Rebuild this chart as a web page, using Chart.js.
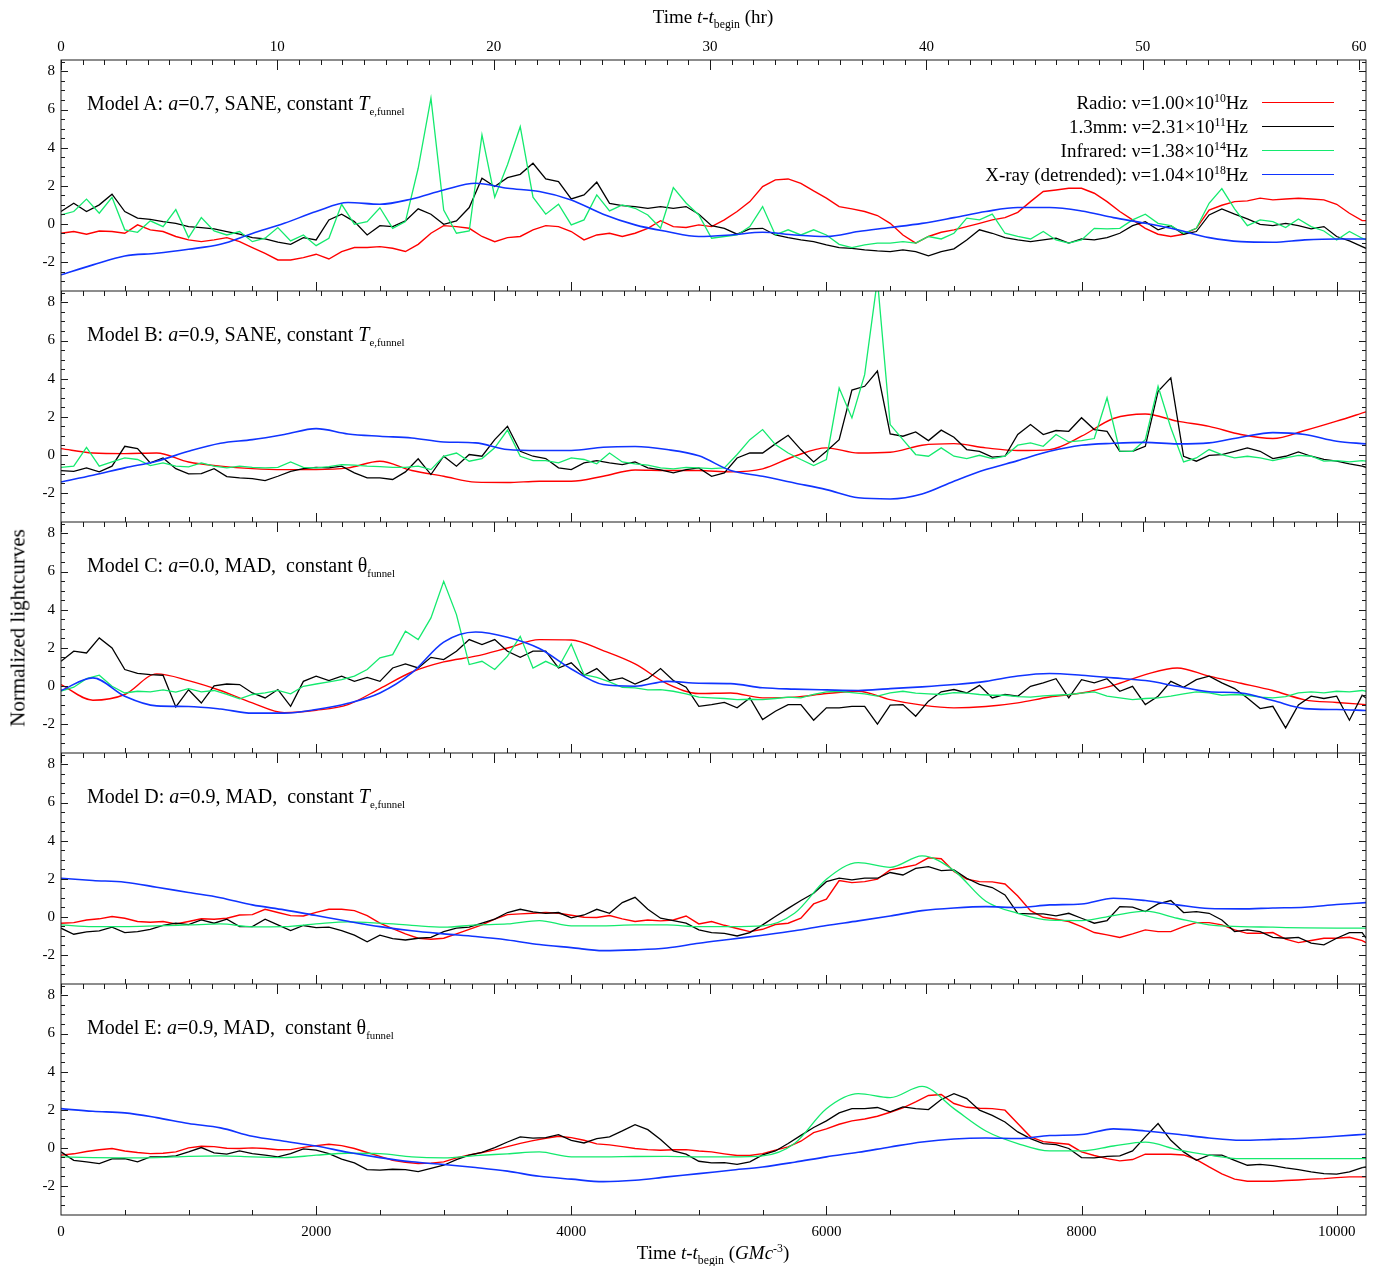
<!DOCTYPE html>
<html>
<head>
<meta charset="utf-8">
<title>Normalized lightcurves</title>
<script src="https://cdn.jsdelivr.net/npm/chart.js@4.4.1/dist/chart.umd.min.js"></script>
<style>
  html, body { margin: 0; padding: 0; background: #fff; }
  #page { position: relative; width: 1380px; height: 1266px; overflow: hidden;
          font-family: "Liberation Serif", "Times New Roman", Times, serif; color: #000; }
  #page canvas { position: absolute; left: 0; }
  .txt { position: absolute; white-space: nowrap; line-height: 1; }
  .txt sub, .txt sup { font-size: 62%; line-height: 0; }
  .note { left: 87px; font-size: 20px; }
  .note sub { font-size: 54%; }
  .leg { right: 132px; font-size: 19px; text-align: right; }
  .legline { position: absolute; left: 1262px; width: 72px; height: 0; border-top: 1.5px solid; }
  .title { font-size: 19px; }
  .ytitle { font-size: 21px; }
</style>
</head>
<body>
<div id="page">
  <canvas id="cA" width="1380" height="291" style="top:0px"></canvas>
  <canvas id="cB" width="1380" height="231" style="top:291px"></canvas>
  <canvas id="cC" width="1380" height="231" style="top:522px"></canvas>
  <canvas id="cD" width="1380" height="231" style="top:753px"></canvas>
  <canvas id="cE" width="1380" height="282" style="top:984px"></canvas>

  <div class="txt title" style="left:713px; top:7px; transform:translateX(-50%);">Time <i>t</i>-<i>t</i><sub>begin</sub> (hr)</div>
  <div class="txt title" style="left:713px; top:1243px; transform:translateX(-50%);">Time <i>t</i>-<i>t</i><sub>begin</sub> (<i>GMc</i><sup>-3</sup>)</div>
  <div class="txt ytitle" style="left:18px; top:628px; transform:translate(-50%,-50%) rotate(-90deg);">Normalized lightcurves</div>

  <div class="txt note" style="top:93px;">Model A: <i>a</i>=0.7, SANE, constant <i>T</i><sub>e,funnel</sub></div>
  <div class="txt note" style="top:324px;">Model B: <i>a</i>=0.9, SANE, constant <i>T</i><sub>e,funnel</sub></div>
  <div class="txt note" style="top:555px;">Model C: <i>a</i>=0.0, MAD,&nbsp; constant θ<sub>funnel</sub></div>
  <div class="txt note" style="top:786px;">Model D: <i>a</i>=0.9, MAD,&nbsp; constant <i>T</i><sub>e,funnel</sub></div>
  <div class="txt note" style="top:1017px;">Model E: <i>a</i>=0.9, MAD,&nbsp; constant θ<sub>funnel</sub></div>

  <div class="txt leg" style="top:93px;">Radio: ν=1.00×10<sup>10</sup>Hz</div>
  <div class="txt leg" style="top:117px;">1.3mm: ν=2.31×10<sup>11</sup>Hz</div>
  <div class="txt leg" style="top:141px;">Infrared: ν=1.38×10<sup>14</sup>Hz</div>
  <div class="txt leg" style="top:165px;">X-ray (detrended): ν=1.04×10<sup>18</sup>Hz</div>
  <div class="legline" style="top:102px; border-color:#ff0000;"></div>
  <div class="legline" style="top:126px; border-color:#000000;"></div>
  <div class="legline" style="top:150px; border-color:#14ea6e;"></div>
  <div class="legline" style="top:174px; border-color:#1034ff;"></div>
</div>

<script>
// sample times in GM/c^3 (noisy curves use the fine grid, smooth ones the coarse grid)
const tFine = [0,100,200,300,400,500,600,700,800,900,
  1000,1100,1200,1300,1400,1500,1600,1700,1800,1900,
  2000,2100,2200,2300,2400,2500,2600,2700,2800,2900,
  3000,3100,3200,3300,3400,3500,3600,3700,3800,3900,
  4000,4100,4200,4300,4400,4500,4600,4700,4800,4900,
  5000,5100,5200,5300,5400,5500,5600,5700,5800,5900,
  6000,6100,6200,6300,6400,6500,6600,6700,6800,6900,
  7000,7100,7200,7300,7400,7500,7600,7700,7800,7900,
  8000,8100,8200,8300,8400,8500,8600,8700,8800,8900,
  9000,9100,9200,9300,9400,9500,9600,9700,9800,9900,
  10000,10100,10200,10230];
const tCoarse = [0,250,500,750,1000,1250,1500,1750,2000,2250,
  2500,2750,3000,3250,3500,3750,4000,4250,4500,4750,
  5000,5250,5500,5750,6000,6250,6500,6750,7000,7250,
  7500,7750,8000,8250,8500,8750,9000,9250,9500,9750,
  10000,10230];

// tick labels
const yTickLabels = [-2, 0, 2, 4, 6, 8];
const tTickLabels = [0, 2000, 4000, 6000, 8000, 10000];
const hrTickLabels = [0, 10, 20, 30, 40, 50, 60];
const hourToT = 169.6;   // GM/c^3 per hour

// ---- Model A ----
const aRadio = [-0.49,-0.40,-0.54,-0.37,-0.40,-0.49,-0.05,-0.31,-0.40,-0.66,
  -0.84,-0.93,-0.84,-0.72,-0.93,-1.24,-1.54,-1.89,-1.89,-1.77,
  -1.59,-1.84,-1.45,-1.24,-1.24,-1.19,-1.28,-1.45,-1.07,-0.49,
  -0.09,-0.14,-0.23,-0.66,-0.93,-0.72,-0.66,-0.31,-0.09,-0.14,
  -0.40,-0.84,-0.58,-0.49,-0.66,-0.49,-0.23,0.17,-0.14,-0.19,
  -0.05,-0.14,0.21,0.65,1.17,1.96,2.31,2.36,2.13,1.73,
  1.35,0.91,0.79,0.65,0.44,0.03,-0.58,-1.01,-0.66,-0.44,
  -0.31,-0.14,0.03,0.21,0.33,0.61,1.17,1.70,1.78,1.87,
  1.87,1.61,1.17,0.65,0.21,-0.23,-0.54,-0.66,-0.54,-0.23,
  0.72,0.98,1.17,1.21,1.35,1.26,1.31,1.35,1.31,1.26,
  1.03,0.56,0.17,0.17];
const aMm = [0.65,1.08,0.65,1.00,1.56,0.65,0.30,0.24,0.12,0.03,
  -0.14,-0.19,-0.26,-0.40,-0.54,-0.72,-0.79,-0.96,-1.07,-0.72,
  -0.84,0.21,0.51,0.12,-0.58,-0.09,-0.14,0.16,0.79,0.51,
  -0.02,0.16,0.86,2.40,1.96,2.43,2.60,3.18,2.36,2.22,
  1.31,1.52,2.19,1.08,0.96,0.91,0.82,0.91,0.82,0.91,
  0.51,-0.09,-0.23,-0.54,-0.26,-0.23,-0.58,-0.72,-0.84,-0.93,
  -1.10,-1.24,-1.28,-1.36,-1.42,-1.45,-1.36,-1.45,-1.68,-1.45,
  -1.31,-0.84,-0.31,-0.49,-0.72,-0.84,-0.93,-0.84,-0.75,-1.01,
  -0.79,-0.84,-0.72,-0.49,-0.09,0.12,-0.31,-0.09,-0.54,-0.40,
  0.47,0.79,0.51,0.26,-0.02,-0.09,0.03,-0.09,-0.26,-0.14,
  -0.66,-0.89,-1.19,-1.28];
const aIr = [0.47,0.65,1.30,0.56,1.40,-0.31,-0.44,0.16,-0.14,0.75,
  -0.72,0.33,-0.37,-0.58,-0.40,-0.93,-0.75,-0.19,-0.89,-0.58,
  -1.14,-0.75,1.03,-0.02,0.12,0.85,-0.23,0.12,2.92,6.60,
  0.73,-0.49,-0.37,4.67,1.40,3.10,5.10,1.40,0.51,1.03,
  -0.05,0.21,1.52,0.68,1.00,0.82,0.47,-0.23,1.90,1.10,
  0.47,-0.75,-0.66,-0.58,-0.14,0.91,-0.58,-0.31,-0.58,-0.31,
  -0.58,-1.07,-1.24,-1.10,-1.01,-1.01,-0.93,-1.01,-0.66,-0.79,
  -0.49,0.30,0.21,0.51,-0.49,-0.66,-0.79,-0.40,-0.84,-1.01,
  -0.84,-0.23,-0.26,-0.23,0.21,0.51,0.03,-0.09,-0.49,-0.23,
  1.08,1.85,0.79,-0.09,0.21,0.12,-0.19,0.26,-0.14,-0.37,
  -0.84,-0.40,-0.75,-0.84];
const aXray = [-2.67,-2.15,-1.68,-1.54,-1.33,-1.07,-0.50,0.03,0.65,1.12,
  1.03,1.31,1.78,2.13,1.87,1.70,1.26,0.51,-0.05,-0.40,
  -0.66,-0.58,-0.44,-0.58,-0.66,-0.40,-0.19,0.03,0.33,0.65,
  0.86,0.86,0.68,0.33,0.03,-0.31,-0.72,-0.93,-0.96,-0.84,
  -0.79,-0.79];

// ---- Model B ----
const bRadio = [0.33,0.10,0.07,0.10,-0.37,-0.59,-0.72,-0.77,-0.77,-0.68,
  -0.33,-0.82,-1.12,-1.43,-1.45,-1.38,-1.38,-1.12,-0.79,-0.82,
  -0.82,-0.89,-0.73,-0.07,0.37,0.10,0.14,0.51,0.59,0.37,
  0.23,0.28,0.98,1.91,2.15,1.77,1.50,1.07,0.86,1.28,
  1.77,2.26];
const bMm = [-0.82,-0.86,-0.68,-0.89,-0.59,0.45,0.33,-0.42,-0.16,-0.72,
  -1.00,-0.98,-0.72,-1.14,-1.21,-1.24,-1.35,-1.12,-0.86,-0.72,
  -0.65,-0.68,-0.59,-0.94,-1.21,-1.21,-1.29,-0.89,-0.20,-1.03,
  -0.07,-0.59,0.02,-0.07,0.80,1.50,0.19,-0.07,-0.19,-0.68,
  -0.77,-0.42,-0.30,-0.42,-0.51,-0.37,-0.68,-0.79,-0.94,-0.77,
  -0.68,-1.12,-0.94,-0.16,0.10,0.10,0.58,1.03,0.28,-0.37,
  0.19,0.80,3.40,3.60,4.40,1.10,0.98,1.21,0.75,1.30,
  0.93,0.28,0.19,-0.12,-0.07,1.07,1.59,1.07,1.28,1.24,
  1.95,1.33,1.24,0.19,0.19,0.45,3.34,4.04,-0.07,-0.33,
  -0.02,0.02,0.19,0.37,0.19,-0.19,-0.07,0.16,-0.07,-0.24,
  -0.33,-0.47,-0.59,-0.65];
const bIr = [-0.65,-0.59,0.40,-0.59,-0.37,-0.16,-0.24,-0.56,-0.42,-0.59,
  -0.63,-0.42,-0.59,-0.68,-0.59,-0.65,-0.68,-0.65,-0.37,-0.65,
  -0.68,-0.61,-0.51,-0.54,-0.59,-0.61,-0.65,-0.65,-0.59,-0.77,
  -0.07,0.10,-0.33,-0.19,0.37,1.30,-0.07,-0.30,-0.30,-0.42,
  -0.16,-0.24,-0.47,0.10,-0.37,-0.47,-0.54,-0.68,-0.73,-0.65,
  -0.68,-0.72,-0.68,0.02,0.80,1.33,0.54,0.10,-0.24,-0.56,
  -0.24,3.51,1.94,4.21,9.20,1.59,0.80,0.02,-0.07,0.37,
  -0.07,-0.19,-0.02,-0.19,-0.07,0.51,0.63,0.45,1.07,0.68,
  0.75,0.86,3.00,0.20,0.19,0.80,3.60,1.42,-0.37,-0.16,
  0.28,0.02,-0.16,-0.07,-0.16,-0.30,-0.16,-0.02,-0.07,-0.33,
  -0.30,-0.37,-0.30,-0.33];
const bXray = [-1.42,-1.07,-0.68,-0.33,0.19,0.61,0.80,1.07,1.38,1.10,
  0.98,0.89,0.68,0.63,0.28,0.23,0.23,0.40,0.44,0.28,
  -0.05,-0.82,-1.12,-1.47,-1.82,-2.25,-2.31,-2.05,-1.38,-0.77,
  -0.30,0.19,0.51,0.61,0.66,0.58,0.63,0.93,1.17,1.07,
  0.72,0.58];

// ---- Model C ----
const cRadio = [0.07,-0.75,-0.45,0.63,0.28,-0.24,-0.89,-1.40,-1.28,-0.98,
  -0.14,0.73,1.26,1.56,1.99,2.43,2.41,1.85,1.15,0.12,
  -0.40,-0.37,-0.63,-0.59,-0.40,-0.28,-0.72,-1.01,-1.15,-1.08,
  -0.89,-0.58,-0.37,0.03,0.59,0.94,0.51,0.14,-0.24,-0.73,
  -0.87,-0.98];
const cMm = [1.29,1.82,1.73,2.52,1.99,0.86,0.66,0.59,0.56,-1.10,
  -0.20,-0.90,0.00,0.10,0.07,-0.37,-0.63,-0.19,-1.07,0.24,
  0.51,0.28,0.51,0.24,0.45,0.24,0.94,1.15,0.94,1.50,
  1.38,1.82,2.43,2.17,2.43,1.82,1.50,1.82,1.82,0.94,
  1.21,0.56,0.91,0.28,0.42,0.10,0.38,0.91,0.28,-0.07,
  -1.07,-0.98,-0.86,-1.15,-0.63,-1.77,-1.33,-0.98,-0.98,-1.80,
  -1.15,-1.15,-1.07,-1.07,-2.00,-1.01,-0.98,-1.59,-0.80,-0.31,
  -0.19,-0.37,0.03,-0.63,-0.45,-0.54,-0.02,0.16,0.38,-0.63,
  0.33,0.16,0.38,-0.28,-0.02,-0.98,-0.54,0.24,-0.07,0.33,
  0.51,0.16,-0.14,-0.63,-1.19,-1.07,-2.20,-1.00,-0.54,-0.66,
  -0.54,-1.80,-0.49,-0.63];
const cIr = [-0.28,-0.07,0.38,0.56,-0.02,-0.37,-0.28,-0.31,-0.21,-0.33,
  -0.14,-0.31,-0.24,-0.45,-0.68,-0.45,-0.37,-0.24,-0.42,-0.02,
  0.10,0.21,0.33,0.51,0.86,1.47,1.64,2.87,2.43,3.57,
  5.49,3.74,1.12,1.29,0.86,1.56,2.60,0.94,1.29,0.98,
  2.20,0.59,0.45,0.21,-0.07,-0.10,-0.21,-0.19,-0.28,-0.42,
  -0.59,-0.63,-0.66,-0.72,-0.70,-0.72,-0.66,-0.59,-0.63,-0.45,
  -0.31,-0.28,-0.35,-0.42,-0.54,-0.37,-0.28,-0.38,-0.42,-0.45,
  -0.35,-0.38,-0.45,-0.49,-0.49,-0.56,-0.59,-0.52,-0.49,-0.45,
  -0.38,-0.31,-0.54,-0.63,-0.72,-0.66,-0.63,-0.54,-0.42,-0.31,
  -0.37,-0.49,-0.45,-0.49,-0.59,-0.63,-0.56,-0.37,-0.31,-0.37,
  -0.28,-0.31,-0.24,-0.28];
const cXray = [-0.24,0.42,-0.54,-1.05,-1.08,-1.21,-1.43,-1.43,-1.24,-0.91,
  -0.37,0.68,2.30,2.83,2.55,1.96,0.89,0.07,-0.02,0.24,
  0.14,0.12,-0.10,-0.17,-0.21,-0.24,-0.14,-0.05,0.07,0.24,
  0.52,0.65,0.56,0.42,0.28,-0.02,-0.31,-0.37,-0.77,-1.19,
  -1.24,-1.29];

// ---- Model D ----
const dRadio = [-0.33,-0.30,-0.16,-0.10,0.02,-0.07,-0.24,-0.28,-0.24,-0.37,
  -0.24,-0.10,-0.12,-0.07,0.10,0.12,0.40,0.23,0.07,0.05,
  0.24,0.40,0.40,0.33,0.07,-0.33,-0.61,-0.89,-1.12,-1.17,
  -1.12,-0.89,-0.65,-0.42,-0.12,0.12,0.16,0.19,0.23,0.19,
  0.09,-0.02,-0.03,0.07,-0.10,-0.24,-0.16,-0.21,-0.16,0.05,
  -0.37,-0.24,-0.44,-0.61,-0.77,-0.65,-0.40,-0.33,-0.07,0.68,
  0.93,1.91,1.80,1.85,1.98,2.47,2.59,2.73,3.10,3.05,
  2.38,1.98,1.85,1.84,1.73,1.10,0.33,-0.02,-0.12,-0.24,
  -0.51,-0.82,-0.94,-1.08,-0.89,-0.68,-0.77,-0.77,-0.51,-0.30,
  -0.30,-0.42,-0.68,-0.86,-0.86,-0.82,-1.17,-1.35,-1.24,-1.12,
  -1.12,-1.07,-1.24,-1.35];
const dMm = [-0.59,-0.91,-0.79,-0.73,-0.54,-0.82,-0.77,-0.65,-0.44,-0.33,
  -0.40,-0.16,-0.33,-0.12,-0.51,-0.51,-0.12,-0.42,-0.72,-0.45,
  -0.56,-0.54,-0.72,-0.96,-1.31,-0.96,-1.14,-1.21,-1.12,-1.07,
  -0.77,-0.59,-0.54,-0.33,-0.12,0.23,0.40,0.26,0.19,0.23,
  -0.05,0.10,0.40,0.19,0.75,1.03,0.40,-0.07,-0.19,-0.33,
  -0.68,-0.82,-0.86,-1.00,-0.82,-0.42,0.02,0.45,0.86,1.24,
  1.85,2.03,1.94,2.03,2.03,2.33,2.20,2.55,2.64,2.43,
  2.47,2.03,1.71,1.54,1.15,0.19,0.16,0.16,0.05,0.19,
  -0.07,-0.33,-0.19,0.54,0.51,0.28,0.68,0.86,0.23,0.28,
  0.19,-0.16,-0.77,-0.68,-0.77,-1.07,-1.12,-1.07,-1.38,-1.47,
  -1.12,-0.82,-0.82,-1.12];
const dIr = [-0.42,-0.51,-0.51,-0.47,-0.42,-0.37,-0.52,-0.51,-0.37,-0.26,
  -0.33,-0.44,-0.54,-0.42,-0.37,-0.19,-0.47,-0.47,-0.42,-0.42,
  -0.51,-0.51,-0.47,0.19,1.98,2.85,2.60,3.20,2.43,0.82,
  0.19,-0.17,-0.19,0.07,0.30,-0.07,-0.42,-0.51,-0.54,-0.58,
  -0.59,-0.59];
const dXray = [2.03,1.91,1.82,1.56,1.28,1.01,0.63,0.37,0.07,-0.23,
  -0.51,-0.73,-0.89,-1.03,-1.21,-1.45,-1.61,-1.77,-1.73,-1.63,
  -1.38,-1.17,-0.96,-0.73,-0.45,-0.21,0.05,0.33,0.47,0.54,
  0.49,0.63,0.68,0.98,0.86,0.63,0.44,0.42,0.47,0.51,
  0.65,0.75];

// ---- Model E ----
const eRadio = [-0.38,-0.31,-0.19,-0.10,-0.03,-0.16,-0.24,-0.30,-0.28,-0.21,
  0.00,0.09,0.07,-0.02,-0.03,0.00,-0.03,-0.10,-0.09,0.03,
  0.12,0.19,0.12,-0.03,-0.24,-0.44,-0.65,-0.75,-0.82,-0.80,
  -0.73,-0.52,-0.37,-0.24,-0.10,0.07,0.24,0.38,0.51,0.61,
  0.54,0.40,0.21,0.16,0.07,-0.03,-0.09,-0.12,-0.10,-0.09,
  -0.16,-0.21,-0.31,-0.40,-0.40,-0.30,-0.12,0.05,0.35,0.80,
  1.00,1.24,1.42,1.52,1.66,1.87,2.10,2.41,2.75,2.80,
  2.33,2.13,2.08,2.06,1.98,1.28,0.58,0.33,0.26,0.19,
  -0.21,-0.40,-0.56,-0.68,-0.61,-0.33,-0.33,-0.33,-0.37,-0.61,
  -1.00,-1.36,-1.64,-1.75,-1.75,-1.75,-1.71,-1.68,-1.64,-1.61,
  -1.56,-1.52,-1.52,-1.52];
const eMm = [-0.21,-0.65,-0.73,-0.82,-0.58,-0.56,-0.73,-0.47,-0.47,-0.42,
  -0.21,0.02,-0.26,-0.33,-0.16,-0.30,-0.38,-0.47,-0.30,-0.05,
  -0.12,-0.30,-0.59,-0.79,-1.14,-1.17,-1.12,-1.14,-1.24,-1.07,
  -0.91,-0.61,-0.38,-0.23,0.02,0.31,0.58,0.51,0.54,0.70,
  0.40,0.26,0.49,0.58,0.89,1.22,0.96,0.44,-0.16,-0.33,
  -0.70,-0.79,-0.77,-0.86,-0.73,-0.37,-0.16,0.23,0.66,1.07,
  1.42,1.84,2.06,2.06,2.12,1.89,2.15,2.06,2.01,2.54,
  2.85,2.59,1.98,1.71,1.36,0.84,0.49,0.23,0.17,-0.03,
  -0.51,-0.52,-0.44,-0.42,-0.16,0.58,1.28,0.40,-0.21,-0.65,
  -0.38,-0.38,-0.65,-0.91,-0.86,-0.93,-1.05,-1.14,-1.26,-1.35,
  -1.38,-1.26,-1.03,-1.00];
const eIr = [-0.47,-0.51,-0.52,-0.51,-0.44,-0.42,-0.47,-0.51,-0.38,-0.28,
  -0.30,-0.47,-0.52,-0.40,-0.31,-0.21,-0.47,-0.47,-0.45,-0.44,
  -0.47,-0.47,-0.42,0.23,2.06,2.85,2.64,3.23,2.06,0.89,
  0.23,-0.16,-0.16,0.10,0.30,-0.09,-0.38,-0.56,-0.56,-0.56,
  -0.56,-0.56];
const eXray = [2.06,1.92,1.84,1.59,1.28,1.05,0.61,0.35,0.10,-0.23,
  -0.51,-0.73,-0.87,-1.03,-1.22,-1.49,-1.64,-1.77,-1.70,-1.52,
  -1.35,-1.17,-1.00,-0.75,-0.47,-0.23,0.05,0.31,0.47,0.52,
  0.49,0.65,0.70,1.00,0.89,0.72,0.52,0.40,0.45,0.51,
  0.61,0.72];

const colours = { radio: '#ff0000', mm: '#000000', ir: '#14ea6e', xray: '#1034ff' };
const serif = '"Liberation Serif", "Times New Roman", serif';

// frame, inward ticks on all four sides and the tick labels
const axesFrame = {
    id: 'axesFrame',
    afterDraw(chart, args, opts) {
        const { ctx, chartArea: a, scales: { x, y } } = chart;
        ctx.save();
        ctx.strokeStyle = '#1a1a1a';
        ctx.lineWidth = 1;
        ctx.beginPath();
        for (let v = -3.5; v <= 8.5; v += 0.5) {
            const py = Math.round(y.getPixelForValue(v)) + 0.5;
            if (py <= a.top + 1 || py >= a.bottom - 1) continue;
            const len = (v % 2 === 0) ? 7 : 4;
            ctx.moveTo(a.left, py); ctx.lineTo(a.left + len, py);
            ctx.moveTo(a.right, py); ctx.lineTo(a.right - len, py);
        }
        for (let h = 0; h <= 60; h++) {          // hours along the top edge
            const px = Math.round(x.getPixelForValue(h * hourToT)) + 0.5;
            const len = (h % 10 === 0) ? 10 : 5;
            ctx.moveTo(px, a.top); ctx.lineTo(px, a.top + len);
        }
        for (let t = 500; t <= 10000; t += 500) { // GM/c^3 along the bottom edge
            const px = Math.round(x.getPixelForValue(t)) + 0.5;
            const len = (t % 2000 === 0) ? 9 : 5;
            ctx.moveTo(px, a.bottom); ctx.lineTo(px, a.bottom - len);
        }
        ctx.stroke();
        ctx.strokeRect(a.left, a.top, a.right - a.left, a.bottom - a.top);

        ctx.fillStyle = '#000';
        ctx.font = '15px ' + serif;
        ctx.textBaseline = 'middle';
        ctx.textAlign = 'right';
        yTickLabels.forEach(v => ctx.fillText(String(v), a.left - 6, y.getPixelForValue(v)));
        ctx.textAlign = 'center';
        if (opts.topLabels) {
            hrTickLabels.forEach(h => ctx.fillText(String(h), x.getPixelForValue(h * hourToT), a.top - 13));
        }
        if (opts.bottomLabels) {
            tTickLabels.forEach(t => ctx.fillText(String(t), x.getPixelForValue(t), a.bottom + 17));
        }
        ctx.restore();
    }
};

function makeSeries(times, values, colour, width) {
    return {
        data: times.map((t, i) => ({ x: t, y: values[i] })),
        borderColor: colour,
        backgroundColor: colour,
        borderWidth: width,
        pointRadius: 0,
        fill: false,
        tension: 0,
        cubicInterpolationMode: times === tCoarse ? 'monotone' : 'default'
    };
}

const panels = [
    { id: 'cA', padTop: 60, padBottom: 0, topLabels: true,  bottomLabels: false,
      radio: [tFine, aRadio], mm: [tFine, aMm], ir: [tFine, aIr], xray: [tCoarse, aXray] },
    { id: 'cB', padTop: 0, padBottom: 0, topLabels: false, bottomLabels: false,
      radio: [tCoarse, bRadio], mm: [tFine, bMm], ir: [tFine, bIr], xray: [tCoarse, bXray] },
    { id: 'cC', padTop: 0, padBottom: 0, topLabels: false, bottomLabels: false,
      radio: [tCoarse, cRadio], mm: [tFine, cMm], ir: [tFine, cIr], xray: [tCoarse, cXray] },
    { id: 'cD', padTop: 0, padBottom: 0, topLabels: false, bottomLabels: false,
      radio: [tFine, dRadio], mm: [tFine, dMm], ir: [tCoarse, dIr], xray: [tCoarse, dXray] },
    { id: 'cE', padTop: 0, padBottom: 51, topLabels: false, bottomLabels: true,
      radio: [tFine, eRadio], mm: [tFine, eMm], ir: [tCoarse, eIr], xray: [tCoarse, eXray] }
];

panels.forEach(p => {
    new Chart(document.getElementById(p.id), {
        type: 'line',
        data: {
            // first dataset is drawn on top
            datasets: [
                makeSeries(p.xray[0], p.xray[1], colours.xray, 1.6),
                makeSeries(p.ir[0], p.ir[1], colours.ir, 1.3),
                makeSeries(p.mm[0], p.mm[1], colours.mm, 1.3),
                makeSeries(p.radio[0], p.radio[1], colours.radio, 1.4)
            ]
        },
        options: {
            responsive: false,
            animation: false,
            devicePixelRatio: 1,
            events: [],
            layout: { padding: { left: 61, right: 14, top: p.padTop, bottom: p.padBottom } },
            scales: {
                x: { type: 'linear', min: 0, max: 10230, display: false },
                y: { type: 'linear', min: -3.52, max: 8.6, display: false }
            },
            plugins: {
                legend: { display: false },
                tooltip: { enabled: false },
                axesFrame: { topLabels: p.topLabels, bottomLabels: p.bottomLabels }
            }
        },
        plugins: [axesFrame]
    });
});
</script>
</body>
</html>
